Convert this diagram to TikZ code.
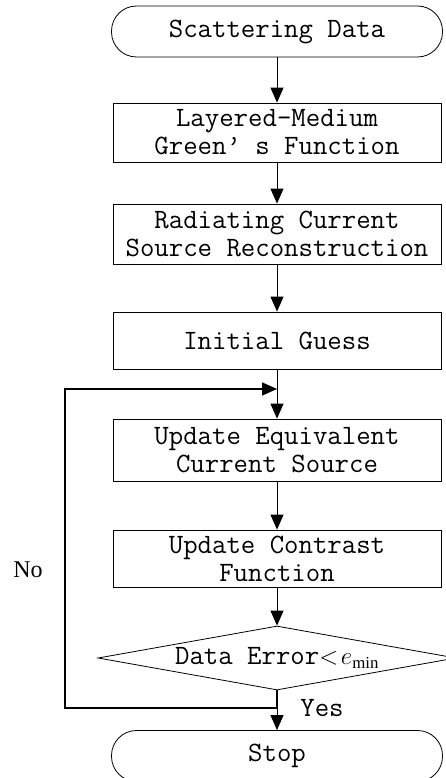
\documentclass[tikz,border=0pt]{standalone}
\usepackage{fontspec}
\setmainfont{Liberation Serif}
\usetikzlibrary{shapes.geometric,arrows.meta}
\begin{document}
\begin{tikzpicture}[x=1pt,y=-1pt,
  every node/.style={font=\ttfamily\fontsize{28}{28}\selectfont, align=center, inner sep=0pt},
  procbox/.style={draw, line width=0.8pt, minimum width=328pt},
  term/.style={draw, line width=0.8pt, rounded corners=25pt, minimum width=331pt, minimum height=51pt},
  decis/.style={draw, diamond, line width=0.8pt, minimum width=358pt, minimum height=64pt, shape aspect=5.6},
  conn/.style={line width=1pt, -{Triangle[length=15pt,width=13pt]}},
  back/.style={line width=1.6pt},
  lbl/.style={font=\ttfamily\fontsize{28}{28}\selectfont},
  nolbl/.style={font=\rmfamily\fontsize{24}{26}\selectfont}
]
\useasboundingbox (0,0) rectangle (446,778);
\clip (0,0) rectangle (446,778);

\node[term] (start) at (277,31.5) {Scattering Data};
\node[procbox, minimum height=59pt] (b1) at (277,132.5) {Layered—Medium\\Green’ s Function};
\node[procbox, minimum height=60pt] (b2) at (277,234) {Radiating Current\\Source Reconstruction};
\node[procbox, minimum height=57pt] (b3) at (277,340.5) {Initial Guess};
\node[procbox, minimum height=62pt] (b4) at (277,450) {Update Equivalent\\Current Source};
\node[procbox, minimum height=57pt] (b5) at (277,558.5) {Update Contrast\\Function};
\node[decis] (dia) at (277,658) {Data Error\fontsize{24}{26}\selectfont$<\!e_{\min}$};
\node[term] (stop) at (277,756) {Stop};

\coordinate (lb) at (65,708);
\coordinate (lt) at (65,389);
\coordinate (j) at (277,389);

\draw[conn] (start) -- (b1);
\draw[conn] (b1) -- (b2);
\draw[conn] (b2) -- (b3);
\draw[conn] (b3) -- (b4);
\draw[conn] (b4) -- (b5);
\draw[conn] (b5) -- (dia);
\draw[conn] (dia) -- (stop);
\draw[back, -{Triangle[length=15pt,width=13pt]}] (dia.south) |- (lb) -- (lt) -- (j);

\node[lbl] (yes) at (322,708) {Yes};
\node[nolbl] (no) at (28,570) {No};
\end{tikzpicture}
\end{document}
